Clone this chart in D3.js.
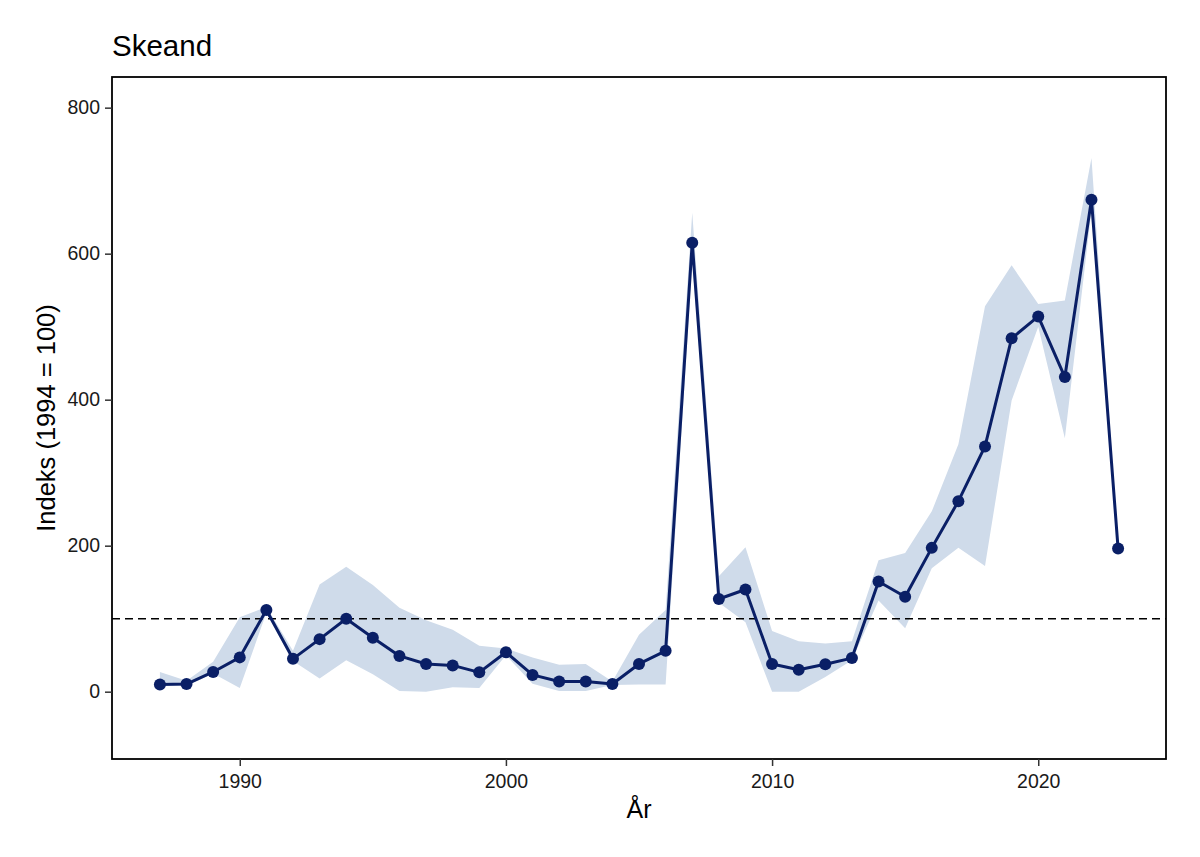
<!DOCTYPE html>
<html>
<head>
<meta charset="utf-8">
<script src="https://cdn.jsdelivr.net/npm/d3@7"></script>
<style>
  html, body { margin: 0; padding: 0; background: #fff; }
  svg { display: block; font-family: "Liberation Sans", Arial, sans-serif; }
</style>
</head>
<body>
<svg id="chart" width="1200" height="857"></svg>
<script>
const years = d3.range(1987, 2024);
const indexValues = [10, 10.5, 27, 47, 112, 45, 72, 100, 74, 49, 38, 36, 26.5, 54, 23, 14, 14, 10.5, 38, 56, 615, 127, 140, 38, 30, 37.5, 46, 151, 130, 197, 261, 336, 484, 514, 431, 674, 196];
const upperValues = [27, 15, 41, 102, 116, 56, 147, 171, 146, 115, 98, 85, 63, 59, 47, 37, 38, 14, 78, 112, 656, 158, 198, 83, 69, 66, 69, 180, 190, 247, 339, 528, 584, 531, 536, 731, 199];
const lowerValues = [8, 8, 25, 5, 108, 42, 18, 43, 24, 1, 0, 6, 5, 50, 11, 1, 1, 9, 10, 10, 590, 122, 95, 0, 0, 20, 43, 125, 87, 169, 197, 172, 399, 500, 347, 660, 193];
const xTicks = [1990, 2000, 2010, 2020];
const yTicks = [0, 200, 400, 600, 800];
const referenceValue = 100;
const titleText = "Skeand";
const xLabel = "År";
const yLabel = "Indeks (1994 = 100)";

const data = years.map((y, i) => ({ year: y, v: indexValues[i], lo: lowerValues[i], hi: upperValues[i] }));

const svg = d3.select("#chart");
const panel = { left: 112, right: 1166, top: 77, bottom: 759 };

const x = d3.scaleLinear().domain([1985.2, 2024.8]).range([panel.left, panel.right]);
const y = d3.scaleLinear().domain([-92.2, 842]).range([panel.bottom, panel.top]);

const lineColor = "#0a1f66";
const ribbonColor = "#cfdbea";

// ribbon
svg.append("path")
  .datum(data)
  .attr("fill", ribbonColor)
  .attr("d", d3.area().x(d => x(d.year)).y0(d => y(d.lo)).y1(d => y(d.hi)));

// reference line
svg.append("line")
  .attr("x1", panel.left).attr("x2", panel.right)
  .attr("y1", y(referenceValue)).attr("y2", y(referenceValue))
  .attr("stroke", "#000").attr("stroke-width", 1.6)
  .attr("stroke-dasharray", "8,5");

// line
svg.append("path")
  .datum(data)
  .attr("fill", "none")
  .attr("stroke", lineColor)
  .attr("stroke-width", 3)
  .attr("stroke-linejoin", "round")
  .attr("d", d3.line().x(d => x(d.year)).y(d => y(d.v)));

// points
svg.append("g").selectAll("circle")
  .data(data)
  .enter().append("circle")
  .attr("cx", d => x(d.year))
  .attr("cy", d => y(d.v))
  .attr("r", 6)
  .attr("fill", lineColor);

// panel border
svg.append("rect")
  .attr("x", panel.left).attr("y", panel.top)
  .attr("width", panel.right - panel.left)
  .attr("height", panel.bottom - panel.top)
  .attr("fill", "none").attr("stroke", "#000").attr("stroke-width", 1.8);

// axes
const xAxis = d3.axisBottom(x).tickValues(xTicks).tickFormat(d3.format("d")).tickSize(7).tickSizeOuter(0);
const gx = svg.append("g").attr("transform", `translate(0,${panel.bottom})`).call(xAxis);
gx.select(".domain").remove();
gx.selectAll(".tick line").attr("stroke", "#333").attr("stroke-width", 1.5);
gx.selectAll(".tick text").attr("font-size", 19.5).attr("fill", "#1a1a1a")
  .attr("y", 0).attr("dy", 0).attr("transform", "translate(0,29)")
  .attr("font-family", "Liberation Sans, Arial, sans-serif");

const yAxis = d3.axisLeft(y).tickValues(yTicks).tickFormat(d3.format("d")).tickSize(7).tickSizeOuter(0);
const gy = svg.append("g").attr("transform", `translate(${panel.left},0)`).call(yAxis);
gy.select(".domain").remove();
gy.selectAll(".tick line").attr("stroke", "#333").attr("stroke-width", 1.5);
gy.selectAll(".tick text").attr("font-size", 19.5).attr("fill", "#1a1a1a").attr("x", -12)
  .attr("font-family", "Liberation Sans, Arial, sans-serif");

// titles
svg.append("text")
  .attr("x", 112).attr("y", 56)
  .attr("font-size", 29.5).attr("fill", "#000")
  .text(titleText);

svg.append("text")
  .attr("x", (panel.left + panel.right) / 2).attr("y", 818)
  .attr("text-anchor", "middle")
  .attr("font-size", 25).attr("fill", "#000")
  .text(xLabel);

svg.append("text")
  .attr("transform", `translate(55,${(panel.top + panel.bottom) / 2}) rotate(-90)`)
  .attr("text-anchor", "middle")
  .attr("font-size", 25.5).attr("fill", "#000")
  .text(yLabel);
</script>
</body>
</html>
